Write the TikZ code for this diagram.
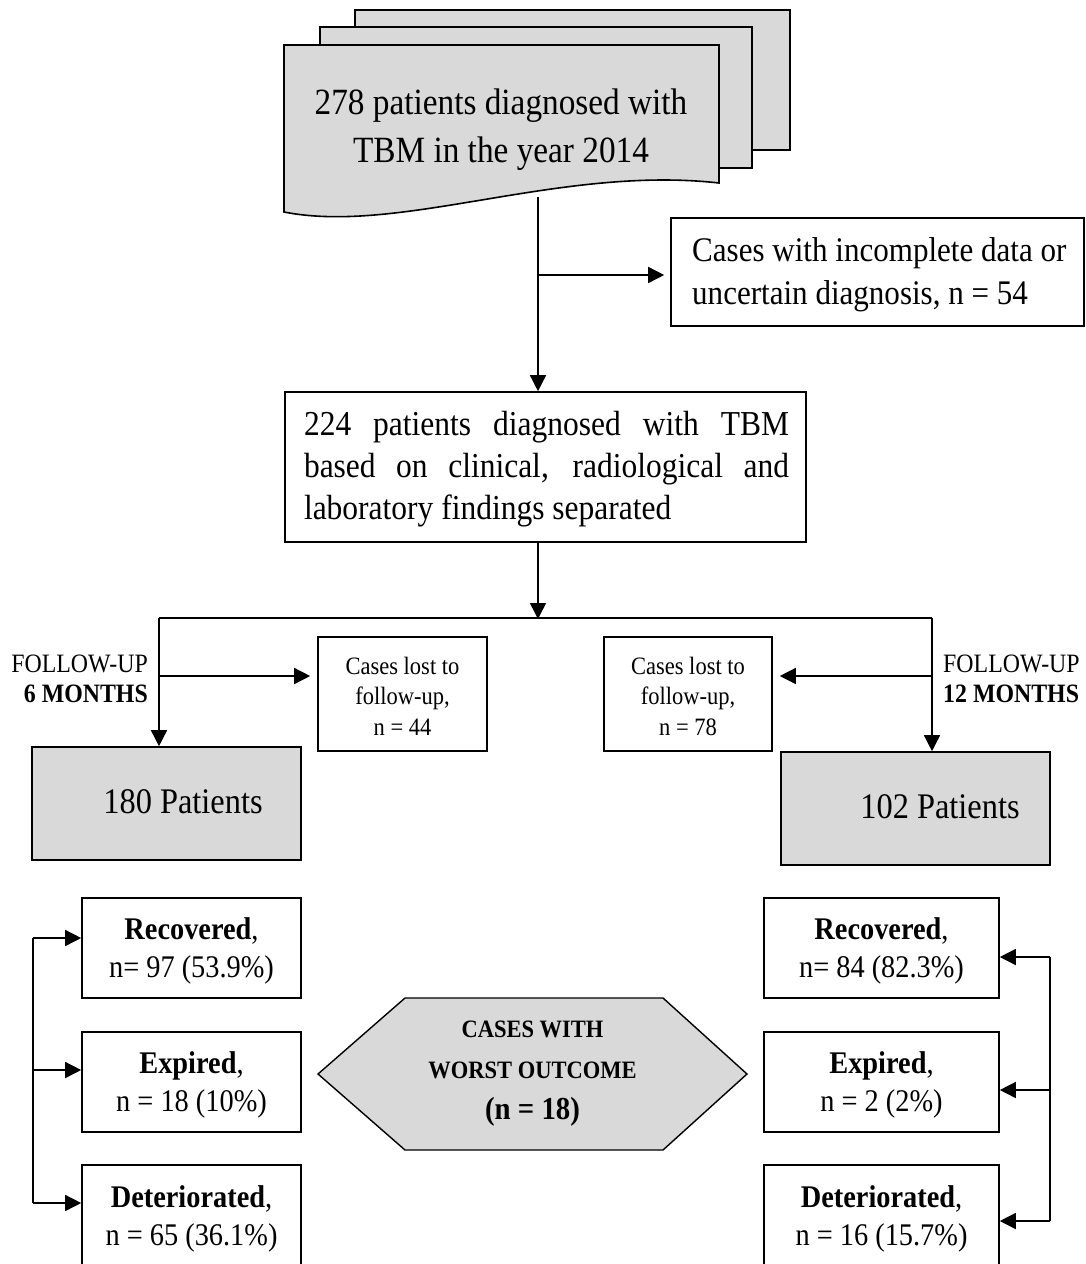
\documentclass[tikz,border=0pt]{standalone}
\usepackage{fontspec}
\setmainfont{Liberation Serif}[FakeStretch=0.9]
\usetikzlibrary{arrows.meta}
\definecolor{boxgray}{HTML}{D9D9D9}
\tikzset{
  box/.style={draw, line width=1.6pt, inner sep=0pt},
  graybox/.style={box, fill=boxgray},
  plain/.style={line width=1.5pt},
  conn/.style={line width=1.5pt, -{Triangle[length=16pt,width=16pt]}},
  txt/.style={inner sep=0pt},
}
\begin{document}
\begin{tikzpicture}[x=1pt,y=-1pt]
\useasboundingbox (0,0) rectangle (1086,1264);

% stacked documents
\draw[line width=1.6pt, fill=boxgray] (355,10) rectangle (790,150);
\draw[line width=1.6pt, fill=boxgray] (320,27) rectangle (752,168);
\draw[line width=1.6pt, fill=boxgray] (284,45) -- (719,45) -- (719,183)
   .. controls (560,165) and (400,235) .. (284,212) -- cycle;
\node[txt, align=center, font=\fontsize{37}{48}\selectfont] (doc) at (501,130)
   {278 patients diagnosed with\\TBM in the year 2014};
\coordinate (docb) at (538,197);

% excluded
\node[box, minimum width=413pt, minimum height=108pt] (excl) at (877.5,272) {};
\node[txt, align=left, anchor=west, font=\fontsize{34.5}{43}\selectfont] (exclt) at (692,275)
   {Cases with incomplete data or\\uncertain diagnosis, n = 54};
\coordinate (br1) at (538,275);

% 224 box
\node[box, minimum width=521pt, minimum height=150pt] (b224) at (545.5,467) {};
\node[txt, align=justify, text width=485pt, font=\fontsize{35}{42}\selectfont] (b224t) at (546.5,469)
   {\hyphenpenalty=10000\relax 224 patients diagnosed with TBM\linebreak based on clinical, radiological and\linebreak laboratory findings separated};

\draw[plain] (docb) -- (br1);
\draw[conn] (br1) -- (br1 |- b224.north);
\draw[conn, shorten >=6pt] (br1) -- (br1 -| excl.west);

% split
\coordinate (split) at (538,618);
\coordinate (L) at (159,618);
\coordinate (R) at (932,618);
\draw[conn, shorten >=-1pt] (split |- b224.south) -- (split);
\draw[plain] (L) -- (R);

% lost boxes
\node[box, minimum width=169pt, minimum height=114pt] (lostL) at (402.5,694) {};
\node[txt, align=center, font=\fontsize{25}{30.5}\selectfont] at (402.5,696)
   {Cases lost to\\follow-up,\\n = 44};
\node[box, minimum width=168pt, minimum height=114pt] (lostR) at (688,694) {};
\node[txt, align=center, font=\fontsize{25}{30.5}\selectfont] at (688,696)
   {Cases lost to\\follow-up,\\n = 78};

% follow-up labels
\node[txt, align=right, anchor=east, font=\fontsize{26.5}{30}\selectfont] (fu6) at (148,679)
   {FOLLOW-UP\\\textbf{6 MONTHS}};
\node[txt, align=left, anchor=west, font=\fontsize{26.5}{30}\selectfont] (fu12) at (943,679)
   {FOLLOW-UP\\\textbf{12 MONTHS}};

% patients boxes
\node[graybox, minimum width=269pt, minimum height=113pt] (p180) at (166.5,803.5) {};
\node[txt, font=\fontsize{36}{40}\selectfont] at (183,802) {180 Patients};
\node[graybox, minimum width=269pt, minimum height=113pt] (p102) at (915.5,808.5) {};
\node[txt, font=\fontsize{36}{40}\selectfont] at (940,807) {102 Patients};

\coordinate (bl) at (159,676);
\coordinate (brr) at (932,676);
\draw[conn] (L) -- (L |- p180.north);
\draw[conn, shorten >=7pt] (bl) -- (bl -| lostL.west);
\draw[conn] (R) -- (R |- p102.north);
\draw[conn, shorten >=7pt] (brr) -- (brr -| lostR.east);

% outcome boxes
\tikzset{outc/.style={box, minimum height=100pt},
         outt/.style={txt, align=center, font=\fontsize{31.5}{38}\selectfont}}
\node[outc, minimum width=219pt] (rec6) at (191.5,948) {};
\node[outt] at (191.5,951) {\textbf{Recovered},\\n= 97 (53.9\%)};
\node[outc, minimum width=219pt] (exp6) at (191.5,1082) {};
\node[outt] at (191.5,1085) {\textbf{Expired},\\n = 18 (10\%)};
\node[outc, minimum width=219pt, minimum height=106pt] (det6) at (191.5,1218) {};
\node[outt] at (191.5,1219) {\textbf{Deteriorated},\\n = 65 (36.1\%)};

\node[outc, minimum width=235pt] (rec12) at (881.5,948) {};
\node[outt] at (881.5,951) {\textbf{Recovered},\\n= 84 (82.3\%)};
\node[outc, minimum width=235pt] (exp12) at (881.5,1082) {};
\node[outt] at (881.5,1085) {\textbf{Expired},\\n = 2 (2\%)};
\node[outc, minimum width=235pt, minimum height=106pt] (det12) at (881.5,1218) {};
\node[outt] at (881.5,1219) {\textbf{Deteriorated},\\n = 16 (15.7\%)};

% left bracket
\coordinate (lb1) at (33,938);
\coordinate (lb2) at (33,1070);
\coordinate (lb3) at (33,1203);
\draw[plain] (lb1) -- (lb3);
\draw[conn] (lb1) -- (lb1 -| rec6.west);
\draw[conn] (lb2) -- (lb2 -| exp6.west);
\draw[conn] (lb3) -- (lb3 -| det6.west);

% right bracket
\coordinate (rb1) at (1050,957);
\coordinate (rb2) at (1050,1090);
\coordinate (rb3) at (1050,1221);
\draw[plain] (rb1) -- (rb3);
\draw[conn] (rb1) -- (rb1 -| rec12.east);
\draw[conn] (rb2) -- (rb2 -| exp12.east);
\draw[conn] (rb3) -- (rb3 -| det12.east);

% hexagon
\draw[line width=1.4pt, fill=boxgray] (318,1074) -- (405,998) -- (663,998) -- (747,1074)
   -- (663,1150) -- (405,1150) -- cycle;
\node[txt, align=center, font=\bfseries\fontsize{25}{41}\selectfont] (worst) at (532.5,1074)
   {CASES WITH\\WORST OUTCOME\\{\fontsize{32}{41}\selectfont (n = 18)}};
\end{tikzpicture}
\end{document}
